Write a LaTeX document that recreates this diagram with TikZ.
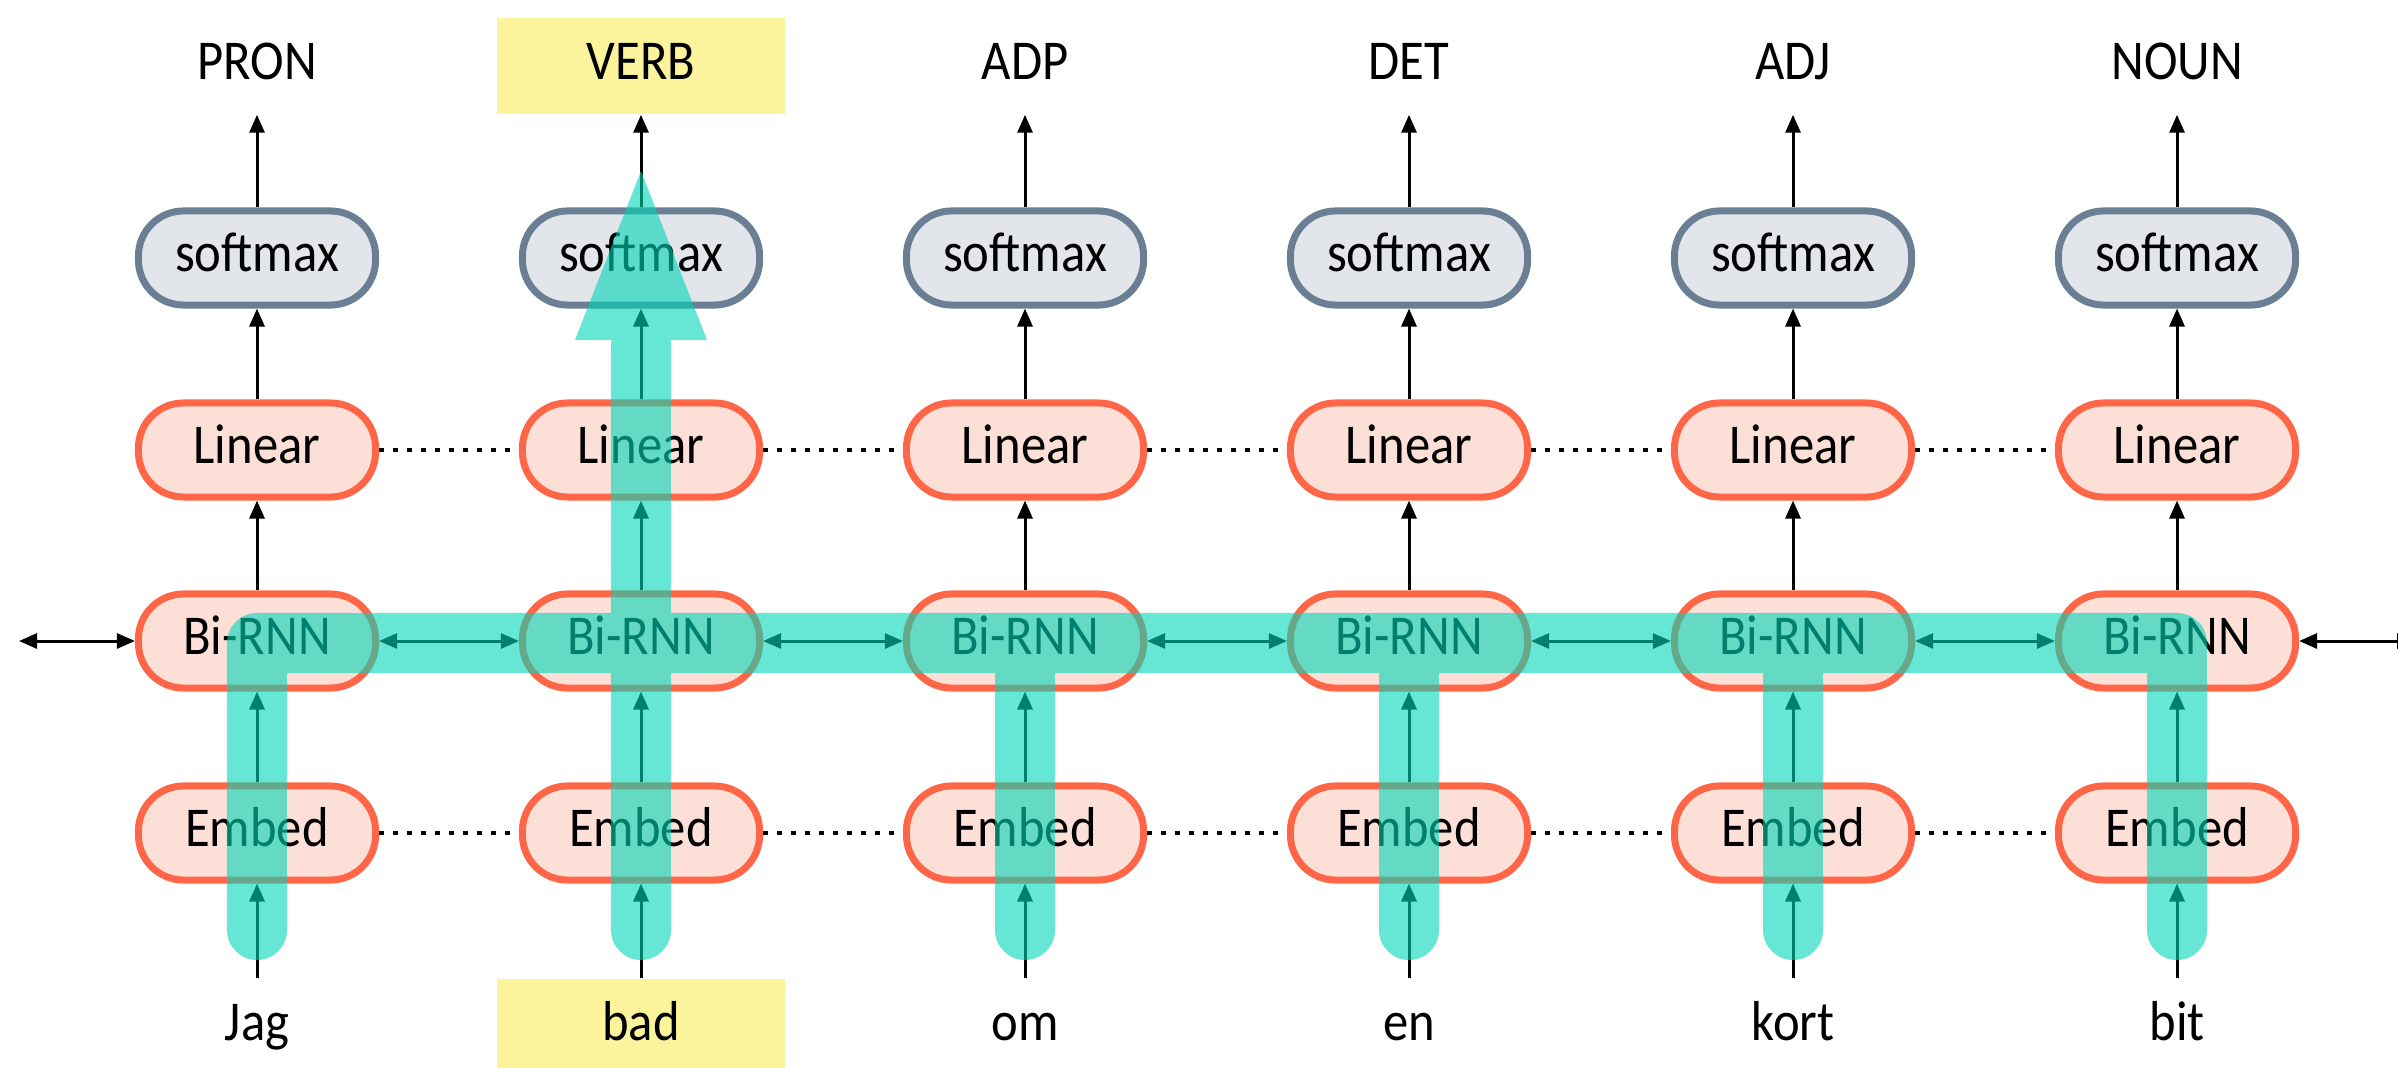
\documentclass[tikz,border=0pt]{standalone}
\usepackage{fontspec}
\setmainfont{Carlito}[FakeStretch=0.9]
\usetikzlibrary{arrows.meta}

\definecolor{layeredge}{RGB}{255,102,72}
\definecolor{layerfill}{RGB}{252,224,216}
\definecolor{smaxedge}{RGB}{106,127,148}
\definecolor{smaxfill}{RGB}{226,229,233}
\definecolor{hilite}{RGB}{251,244,156}
\definecolor{flow}{RGB}{0,213,183}

\tikzset{
  txt/.style={font=\fontsize{16pt}{19pt}\selectfont, text height=0.35cm, text depth=0.08cm, inner sep=0pt},
  layer/.style={txt, draw=layeredge, fill=layerfill, line width=0.07cm,
    rounded corners=0.45cm, minimum width=2.37cm, minimum height=0.94cm},
  smax/.style={layer, draw=smaxedge, fill=smaxfill},
  tag/.style={txt, minimum width=2.88cm, minimum height=0.96cm},
  tip/.tip={Triangle[length=0.18cm,width=0.15cm]},
  feed/.style={line width=0.03cm, -tip},
  both/.style={line width=0.03cm, tip-tip},
  dots/.style={line width=0.035cm, dash pattern=on 0.05cm off 0.09cm},
  band/.style={draw=flow, line width=0.6cm, line cap=round, line join=round},
}

\begin{document}
\begin{tikzpicture}[x=0.01cm, y=-0.01cm]
  \useasboundingbox (0,0) rectangle (2398,1067);
  \clip (0,0) rectangle (2398,1067);

  % one column per token
  \foreach \i/\tg/\w in {1/PRON/Jag, 2/VERB/bad, 3/ADP/om, 4/DET/en, 5/ADJ/kort, 6/NOUN/bit}{
    \pgfmathsetmacro{\cx}{257+384*(\i-1)}
    \ifnum\i=2
      \node[tag, fill=hilite] (t\i) at (\cx,66) {\tg};
      \node[tag, fill=hilite] (w\i) at (\cx,1027) {\w};
    \else
      \node[tag] (t\i) at (\cx,66) {\tg};
      \node[tag] (w\i) at (\cx,1027) {\w};
    \fi
    \node[smax]  (s\i) at (\cx,258) {softmax};
    \node[layer] (l\i) at (\cx,450) {Linear};
    \node[layer] (b\i) at (\cx,641) {Bi-RNN};
    \node[layer] (e\i) at (\cx,833) {Embed};
    \draw[feed] (w\i.north) -- (e\i.south);
    \draw[feed] (e\i.north) -- (b\i.south);
    \draw[feed] (b\i.north) -- (l\i.south);
    \draw[feed] (l\i.north) -- (s\i.south);
    \draw[feed] (s\i.north) -- (t\i.south);
  }

  % recurrent links and shared-weight ties
  \foreach \i [evaluate=\i as \j using int(\i+1)] in {1,...,5}{
    \draw[both] (b\i.east) -- (b\j.west);
    \draw[dots] (l\i.east) -- (l\j.west);
    \draw[dots] (e\i.east) -- (e\j.west);
  }
  \coordinate (lend) at (19,641);
  \coordinate (rend) at (2415,641);
  \draw[both] (lend) -- (b1.west);
  \draw[both] (b6.east) -- (rend);

  % information flow into the prediction for "bad"
  \begin{scope}[transparency group, opacity=0.6]
    \draw[band] (257,930) -- (257,643) -- (2177,643) -- (2177,930);
    \foreach \cx in {1025,1409,1793}{
      \draw[band] (\cx,930) -- (\cx,660);
    }
    \draw[band] (641,930) -- (641,345);
    \fill[flow] (575,340) -- (707,340) -- (641,171) -- cycle;
  \end{scope}
\end{tikzpicture}
\end{document}
